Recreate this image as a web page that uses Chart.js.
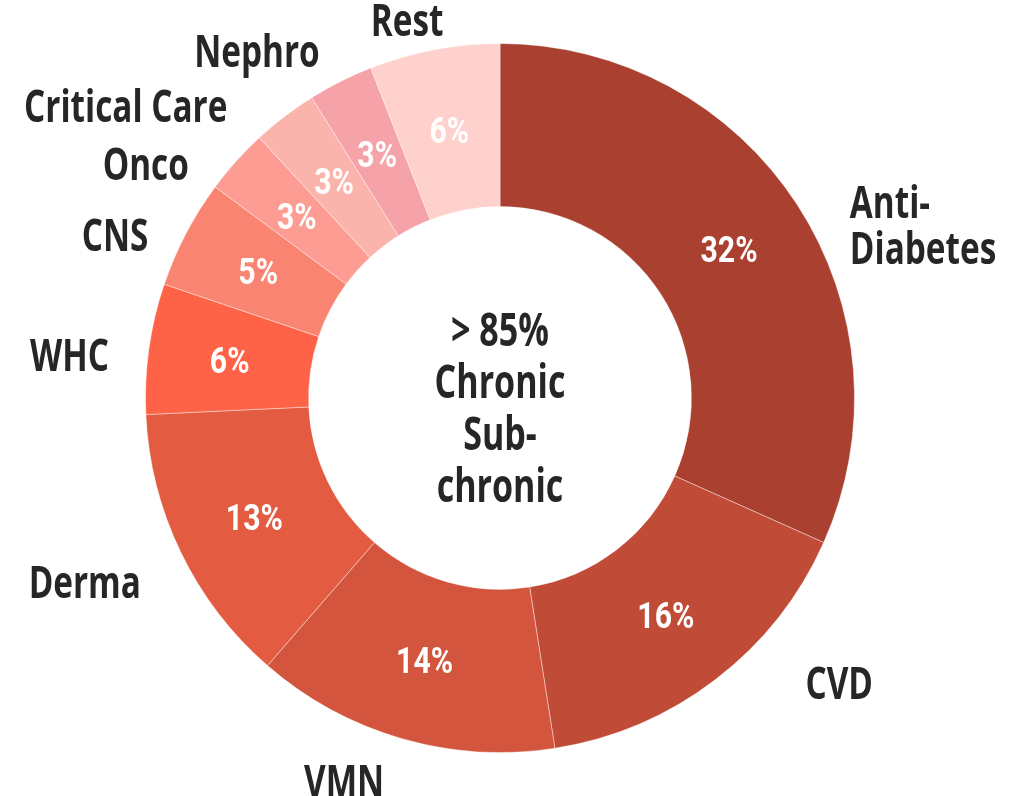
<!DOCTYPE html>
<html><head><meta charset="utf-8">
<script src="https://cdn.jsdelivr.net/npm/chart.js@4"></script>
<style>html,body{margin:0;padding:0;background:#fff}#wrap{width:1025px;height:796px;position:relative}</style>
</head><body><div id="wrap"><canvas id="c"></canvas></div>
<script>
const categories = [['Anti-','Diabetes'],'CVD','VMN','Derma','WHC','CNS','Onco','Critical Care','Nephro','Rest'];
const shares = [32,16,14,13,6,5,3,3,3,6];
const sliceColors = ['#AA4130','#C04B36','#D4553D','#E35B41','#FF6347','#FA8472','#FC9C92','#FBB4AC','#F5A3A8','#FFD1CC'];
const centerLines = ['> 85%','Chronic','Sub-','chronic'];
// label layout nudges: [degrees, px] relative to default outside position
const labelNudge = [[6.6,-4],[-9.6,23],[7,4],[-1.3,9],[-1.7,-1],[-2.8,-7],[-4.9,-5],[-5.6,5],[-0.7,-3],[-3.7,-21]];

const LABEL_FONT = "'Open Sans', Lato, sans-serif";
const PCT_FONT = "Roboto, 'Liberation Sans', sans-serif";
const TEXT = '#262626';

function narrowText(ctx, t, x, y, k){
  ctx.save(); ctx.translate(x, y); ctx.scale(k, 1); ctx.fillText(t, 0, 0); ctx.restore();
}

const labelPlugin = {
  id:'labels',
  afterDatasetsDraw(chart){
    const ctx = chart.ctx;
    const meta = chart.getDatasetMeta(0);
    ctx.save();
    ctx.textBaseline='alphabetic';
    let cx=0, cy=0;
    meta.data.forEach((arc,i)=>{
      const p = arc.getProps(['x','y','startAngle','endAngle','innerRadius','outerRadius'],true);
      cx=p.x; cy=p.y;
      const mid = (p.startAngle+p.endAngle)/2;
      // percent inside ring
      const rm = (p.innerRadius+p.outerRadius)/2;
      const ps = 36, pcap = ps*0.711;
      ctx.font = "700 "+ps+"px "+PCT_FONT;
      ctx.fillStyle='#fff'; ctx.textAlign='center';
      narrowText(ctx, shares[i]+'%', p.x+rm*Math.cos(mid), p.y+rm*Math.sin(mid)+pcap/2, 0.84);
      // category label outside
      const nud = labelNudge[i];
      const ang = mid + nud[0]*Math.PI/180;
      const r = p.outerRadius + 40 + nud[1];
      const px = p.x + r*Math.cos(ang), py = p.y + r*Math.sin(ang);
      const s = Math.cos(mid), c = Math.sin(mid);
      const fs = 45, cap = fs*0.714, lh = 46;
      const lines = Array.isArray(categories[i]) ? categories[i] : [categories[i]];
      const blockH = cap + (lines.length-1)*lh;
      let top;
      ctx.font = "700 "+fs+"px "+LABEL_FONT;
      ctx.fillStyle = TEXT;
      if (s > 0.4) { ctx.textAlign='left'; top = py - blockH/2; }
      else if (s < -0.4) { ctx.textAlign='right'; top = py - blockH/2; }
      else { ctx.textAlign='center'; top = c < 0 ? py - blockH : py; }
      lines.forEach((t,k)=> narrowText(ctx, t, px, top + cap + k*lh, 0.74));
    });
    // center text
    const cs = 46, ccap = cs*0.714, clh = 52;
    ctx.font = "700 "+cs+"px "+LABEL_FONT;
    ctx.fillStyle = TEXT; ctx.textAlign='center';
    const bh = ccap + (centerLines.length-1)*clh;
    const ctop = cy + 10 - bh/2;
    centerLines.forEach((t,k)=> narrowText(ctx, t, cx, ctop + ccap + k*clh, 0.74));
    ctx.restore();
  }
};

new Chart(document.getElementById('c'), {
  type:'doughnut',
  data:{ labels: categories, datasets:[{ data: shares, backgroundColor: sliceColors, borderColor:'rgba(255,255,255,0.4)', borderWidth:1 }] },
  options:{
    responsive:true, maintainAspectRatio:false, animation:false,
    cutout:'54%',
    layout:{ padding:{ top:43, bottom:43, left:0, right:25 } },
    plugins:{ legend:{display:false}, tooltip:{enabled:false} }
  },
  plugins:[labelPlugin]
});
</script></body></html>
